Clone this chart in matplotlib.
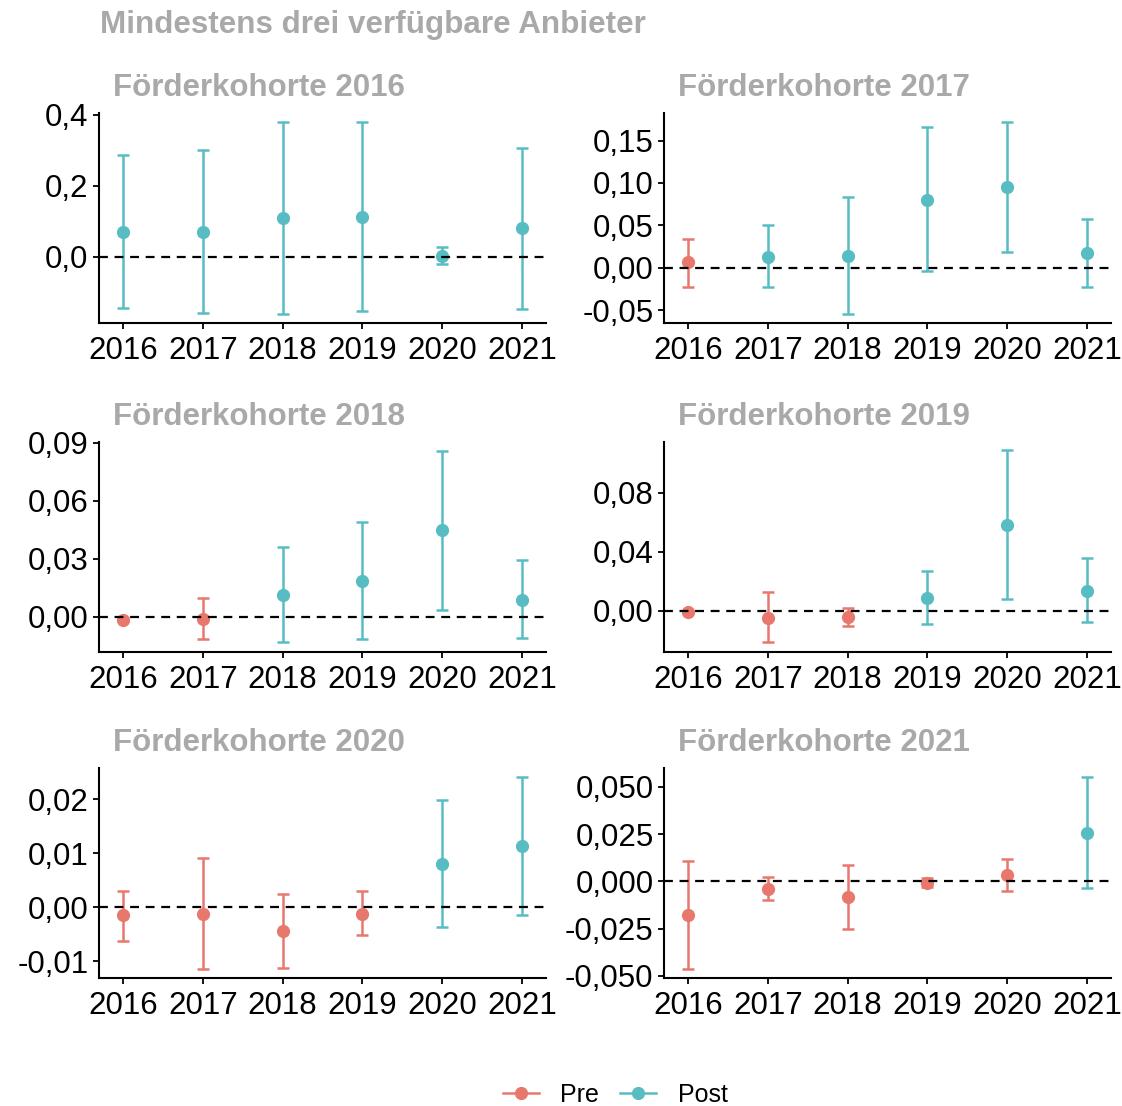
import matplotlib.pyplot as plt
from matplotlib.lines import Line2D
from matplotlib.ticker import FuncFormatter
import numpy as np

plt.rcParams['font.family'] = ['Liberation Sans', 'DejaVu Sans']

# Data
years = [2016, 2017, 2018, 2019, 2020, 2021]
cohorts = [2016, 2017, 2018, 2019, 2020, 2021]

est_2016 = [0.070, 0.070, 0.110, 0.113, 0.003, 0.080]
lo_2016 = [-0.144, -0.158, -0.161, -0.152, -0.021, -0.146]
hi_2016 = [0.287, 0.301, 0.380, 0.380, 0.028, 0.307]

est_2017 = [0.0067, 0.013, 0.014, 0.080, 0.095, 0.018]
lo_2017 = [-0.022, -0.022, -0.054, -0.004, 0.019, -0.022]
hi_2017 = [0.034, 0.050, 0.084, 0.166, 0.172, 0.057]

est_2018 = [-0.0017, -0.0014, 0.0114, 0.0186, 0.0448, 0.0088]
lo_2018 = [-0.0025, -0.0117, -0.0133, -0.0114, 0.0036, -0.0110]
hi_2018 = [-0.0009, 0.0097, 0.0360, 0.0488, 0.0860, 0.0291]

est_2019 = [-0.0009, -0.0050, -0.0043, 0.0086, 0.0585, 0.0136]
lo_2019 = [-0.0015, -0.0213, -0.0102, -0.0093, 0.0077, -0.0079]
hi_2019 = [-0.0003, 0.0125, 0.0020, 0.0267, 0.1090, 0.0356]

est_2020 = [-0.0015, -0.0012, -0.0044, -0.0012, 0.0080, 0.0114]
lo_2020 = [-0.0062, -0.0114, -0.0113, -0.0052, -0.0037, -0.0014]
hi_2020 = [0.0031, 0.0091, 0.0025, 0.0031, 0.0198, 0.0241]

est_2021 = [-0.0180, -0.0039, -0.0085, -0.0007, 0.0034, 0.0258]
lo_2021 = [-0.0465, -0.0099, -0.0253, -0.0032, -0.0053, -0.0035]
hi_2021 = [0.0106, 0.0021, 0.0087, 0.0018, 0.0118, 0.0553]

est_all = [est_2016, est_2017, est_2018, est_2019, est_2020, est_2021]
lo_all = [lo_2016, lo_2017, lo_2018, lo_2019, lo_2020, lo_2021]
hi_all = [hi_2016, hi_2017, hi_2018, hi_2019, hi_2020, hi_2021]

ylims = [(-0.186, 0.405), (-0.065, 0.1825), (-0.0184, 0.0905),
         (-0.028, 0.1145), (-0.0131, 0.0258), (-0.0512, 0.060)]
yticks = [[0, 0.2, 0.4], [-0.05, 0, 0.05, 0.10, 0.15], [0, 0.03, 0.06, 0.09],
          [0, 0.04, 0.08], [-0.01, 0, 0.01, 0.02], [-0.05, -0.025, 0, 0.025, 0.05]]
decimals = [1, 2, 2, 2, 2, 3]

pre_col = '#E8786E'
post_col = '#58BDC2'
title_col = '#A9A9A9'

W, H = 1122, 1106
fig = plt.figure(figsize=(W / 100, H / 100), dpi=100)

col_x = [99, 664]
ax_w = 447
row_y = [(113, 323), (442, 652), (768, 978)]


def fmt(d):
    return FuncFormatter(lambda v, p: ('%.*f' % (d, v)).replace('.', ','))


for i, coh in enumerate(cohorts):
    r, c = divmod(i, 2)
    x0 = col_x[c]
    yt, yb = row_y[r]
    ax = fig.add_axes([x0 / W, 1 - yb / H, ax_w / W, (yb - yt) / H])
    est = np.array(est_all[i])
    lo = np.array(lo_all[i])
    hi = np.array(hi_all[i])
    for j, yr in enumerate(years):
        col = pre_col if yr < coh else post_col
        ax.errorbar(yr, est[j], yerr=[[est[j] - lo[j]], [hi[j] - est[j]]],
                    fmt='o', color=col, ms=8.5, elinewidth=1.8, capsize=4,
                    capthick=1.8, zorder=2)
    ax.axhline(0, color='black', ls=(0, (4, 3)), lw=1.6, zorder=3)
    ax.set_xlim(2015.7, 2021.3)
    ax.set_ylim(*ylims[i])
    ax.set_xticks(years)
    ax.set_yticks(yticks[i])
    ax.yaxis.set_major_formatter(fmt(decimals[i]))
    for s in ['top', 'right']:
        ax.spines[s].set_visible(False)
    for s in ['left', 'bottom']:
        ax.spines[s].set_linewidth(1.5)
    ax.tick_params(labelsize=22.5, length=4.5, width=1.3, colors='black', pad=3)
    ax.tick_params(axis='x', pad=5)
    fig.text((x0 + 14) / W, 1 - (yt - 25) / H, 'Förderkohorte %d' % coh,
             fontsize=22.5, fontweight='bold', color=title_col,
             ha='left', va='center')

fig.text(100 / W, 1 - 25 / H, 'Mindestens drei verfügbare Anbieter',
         fontsize=22.6, fontweight='bold', color=title_col, ha='left', va='center')

handles = [Line2D([], [], color=pre_col, marker='o', ms=8.5, lw=1.8),
           Line2D([], [], color=post_col, marker='o', ms=8.5, lw=1.8)]
fig.legend(handles, ['Pre', 'Post'], loc='center', bbox_to_anchor=(615 / W, 1 - 1095 / H),
           ncol=2, frameon=False, fontsize=18, handlelength=1.45,
           handletextpad=0.85, columnspacing=0.85)

fig.savefig('out.png', dpi=100)
